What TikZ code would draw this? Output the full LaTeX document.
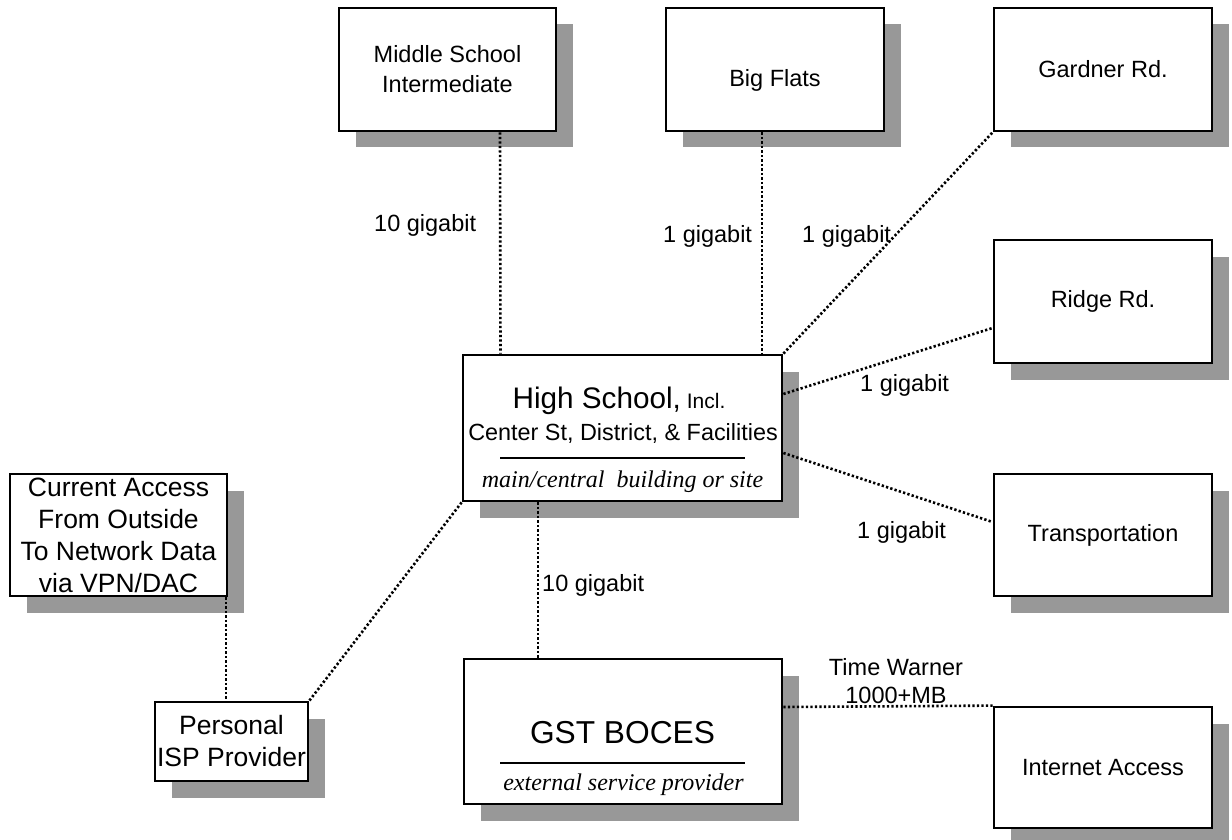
\documentclass[tikz,border=0pt]{standalone}
\usepackage{fontspec}
\setmainfont{Liberation Sans}
\newfontfamily\serifit{Liberation Serif}
\usetikzlibrary{shadows}
\definecolor{shadowgray}{RGB}{152,152,152}
% font size and baseline skip, both in pt
\newcommand{\pxfont}[2]{\fontsize{#1pt}{#2pt}\selectfont}

\begin{document}
\begin{tikzpicture}[x=1pt,y=-1pt,
  site/.style={draw, line width=2.8pt, fill=white, inner sep=0pt, align=center,
    drop shadow={shadow xshift=16.5pt, shadow yshift=-16.5pt, fill=shadowgray, opacity=1},
    font=\pxfont{23.5}{30}},
  bigsite/.style={site, font=\pxfont{26.5}{32}},
  link/.style={line width=2.6pt, dash pattern=on 2.3pt off 2.2pt},
  speed/.style={inner sep=0pt, font=\pxfont{23.5}{28}},
  caption/.style={inner sep=0pt, anchor=base, font=\serifit\itshape\pxfont{24}{28}},
  divider/.style={line width=2.4pt}]
\useasboundingbox (0,0) rectangle (1232,840);

% outlying sites
\node[site, minimum width=217pt, minimum height=123pt] (ms) at (447.5,69.5) {Middle School\\Intermediate};
\node[site, minimum width=218pt, minimum height=123pt] (bf) at (775,69.5) {\raisebox{-10.5pt}[\height][\depth]{Big Flats}};
\node[site, minimum width=218pt, minimum height=123pt] (gr) at (1103,69.5) {Gardner Rd.};
\node[site, minimum width=218pt, minimum height=123pt] (rr) at (1103,301.5) {Ridge Rd.};
\node[site, minimum width=218pt, minimum height=122pt] (tr) at (1103,535) {Transportation};
\node[site, minimum width=218pt, minimum height=121pt] (ia) at (1103,767.5) {Internet Access};

% remote access
\node[bigsite, minimum width=217pt, minimum height=122pt] (ca) at (118.5,535) {Current Access\\From Outside\\To Network Data\\via VPN/DAC};
\node[bigsite, minimum width=153pt, minimum height=79pt] (isp) at (231.5,741.5) {Personal\\ISP Provider};

% main building
\node[site, minimum width=319pt, minimum height=146pt] (hs) at (622.5,428) {};
\node[inner sep=0pt, anchor=base] (hsa) at ([xshift=-3.5pt,yshift=20pt]hs.center) {\pxfont{29.7}{34}High School,\pxfont{21}{24} Incl.};
\node[inner sep=0pt, anchor=base, font=\pxfont{23.4}{28}] (hsb) at ([xshift=0.5pt,yshift=-12pt]hs.center) {Center St, District, \& Facilities};
\draw[divider] ([xshift=-122.5pt,yshift=-30pt]hs.center) -- ([xshift=122.5pt,yshift=-30pt]hs.center);
\node[caption] (hsc) at ([yshift=-59pt]hs.center) {main/central\ \ building or site};

% service provider
\node[site, minimum width=318pt, minimum height=145pt] (bc) at (623,731.5) {};
\node[inner sep=0pt, anchor=base, font=\pxfont{31.7}{36}] (bca) at ([xshift=-0.5pt,yshift=-11.5pt]bc.center) {GST BOCES};
\draw[divider] ([xshift=-123pt,yshift=-31.5pt]bc.center) -- ([xshift=122pt,yshift=-31.5pt]bc.center);
\node[caption] (bcb) at ([xshift=0.5pt,yshift=-58.5pt]bc.center) {external service provider};

% links
\draw[link] ([xshift=52.5pt]ms.south) -- ([xshift=-122pt]hs.north);
\draw[link] ([xshift=-13pt]bf.south) -- ([xshift=139.5pt]hs.north);
\draw[link] (hs.north east) -- (gr.south west);
\draw[link] ([yshift=34pt]hs.east) -- ([yshift=-26.5pt]rr.west);
\draw[link] ([yshift=-25pt]hs.east) -- ([yshift=13pt]tr.west);
\draw[link] (hs.south west) -- (isp.north east);
\draw[link] ([xshift=-84.5pt]hs.south) -- ([xshift=-85pt]bc.north);
\draw[link] ([xshift=107.5pt]ca.south) -- ([xshift=-5.5pt]isp.north);
\draw[link] ([yshift=24.5pt]bc.east) -- (ia.north west);

% link speeds
\node[speed, anchor=base west] (sp1) at (374,231) {10 gigabit};
\node[speed, anchor=base west] (sp2) at (663,242) {1 gigabit};
\node[speed, anchor=base west] (sp3) at (802,242) {1 gigabit};
\node[speed, anchor=base west] (sp4) at (860,391) {1 gigabit};
\node[speed, anchor=base west] (sp5) at (857,538) {1 gigabit};
\node[speed, anchor=base west] (sp6) at (542,591) {10 gigabit};
\node[speed, anchor=base] (tw1) at (896,675) {Time Warner};
\node[speed, anchor=base] (tw2) at (896,703) {1000+MB};
\end{tikzpicture}
\end{document}
